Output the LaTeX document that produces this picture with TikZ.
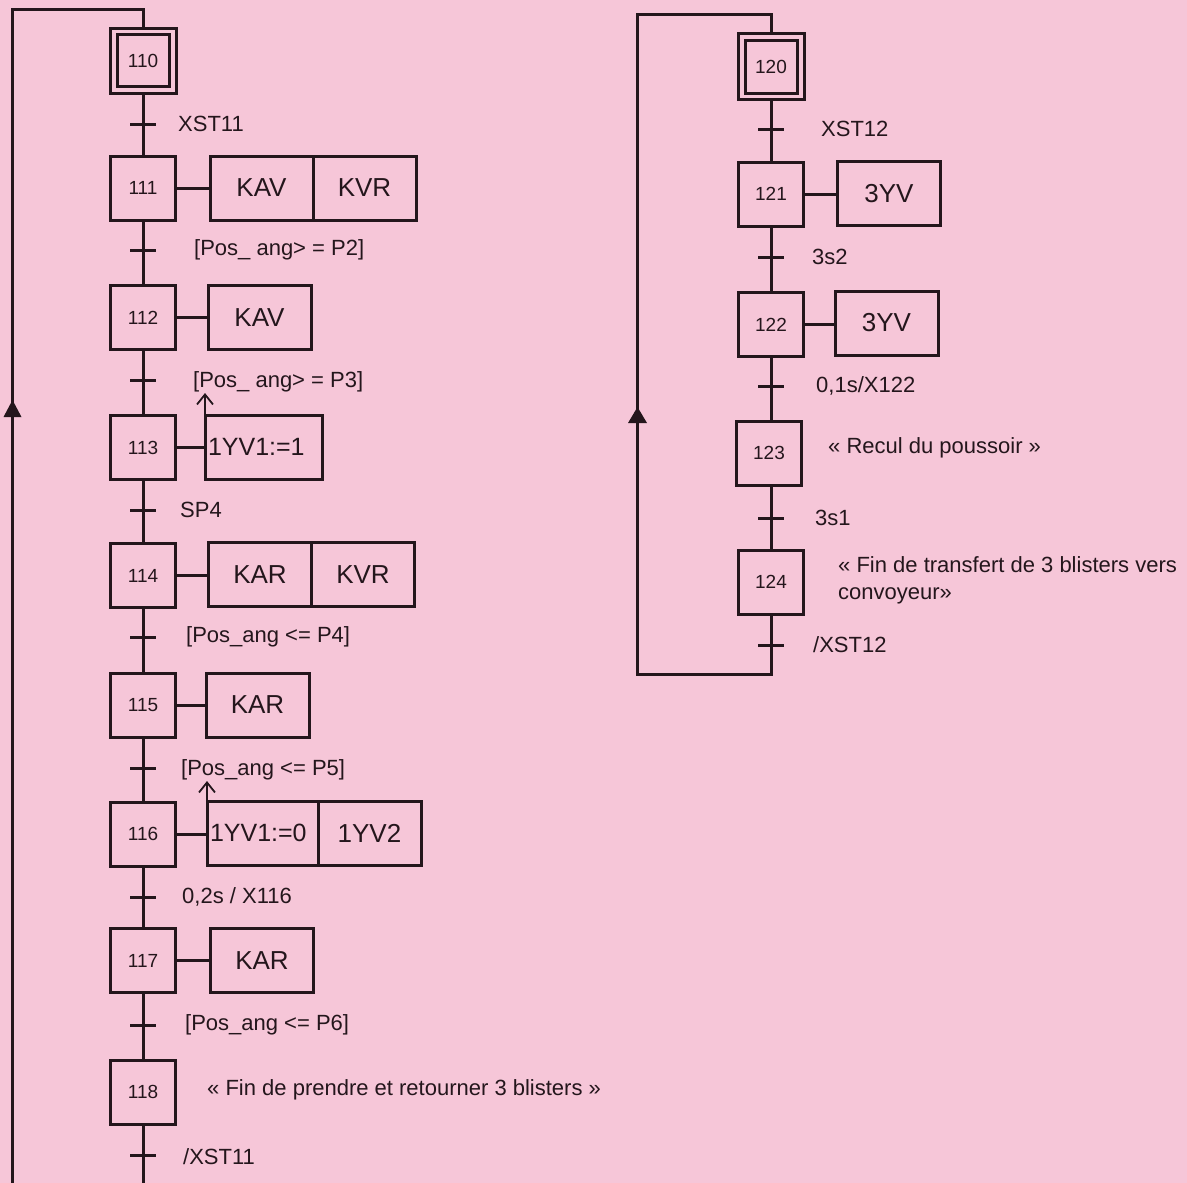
\documentclass[tikz,border=0pt]{standalone}
\usepackage{fontspec}
\setmainfont{Liberation Sans}
\usetikzlibrary{arrows.meta}
\definecolor{bgpink}{RGB}{246,198,216}
\definecolor{ink}{RGB}{36,22,28}
\begin{document}
\begin{tikzpicture}[x=1pt,y=-1pt,
  every node/.style={text=ink},
  ln/.style={draw=ink, line width=3pt},
  stepbox/.style={draw=ink, line width=3pt, minimum width=65pt, minimum height=64pt, inner sep=0pt, outer sep=0pt, font=\fontsize{19}{22}\selectfont},
  actbox/.style={draw=ink, line width=3pt, minimum width=103pt, minimum height=64pt, inner sep=0pt, outer sep=0pt, font=\fontsize{26}{30}\selectfont},
  memact/.style={actbox, inner xsep=3pt, align=left, font=\fontsize{25}{30}\selectfont},
  trlab/.style={anchor=west, inner sep=0pt, font=\fontsize{22}{27}\selectfont},
  tick/.style={draw=ink, line width=3pt},
  memarrow/.style={draw=ink, line width=1.8pt, -{Straight Barb[length=10pt,width=16pt,line width=1.8pt]}}
]
\path[use as bounding box, fill=bgpink] (0,0) rectangle (1187,1183);

% ---------------- left grafcet ----------------
\node[stepbox, minimum width=66pt, minimum height=65pt] (s110) at (143,60.5) {};
\node[stepbox, minimum width=52pt, minimum height=52pt] (s110in) at (143,60.5) {110};
\node[stepbox] (s111) at (143,188) {111};
\node[stepbox] (s112) at (143,317.5) {112};
\node[stepbox] (s113) at (143,447.5) {113};
\node[stepbox] (s114) at (143,575.5) {114};
\node[stepbox] (s115) at (143,705) {115};
\node[stepbox] (s116) at (143,834) {116};
\node[stepbox] (s117) at (143,960.5) {117};
\node[stepbox] (s118) at (143,1092) {118};

\draw[ln] (s110) -- (s111);
\draw[ln] (s111) -- (s112);
\draw[ln] (s112) -- (s113);
\draw[ln] (s113) -- (s114);
\draw[ln] (s114) -- (s115);
\draw[ln] (s115) -- (s116);
\draw[ln] (s116) -- (s117);
\draw[ln] (s117) -- (s118);

% loop
\coordinate (lbot) at (143,1183);
\coordinate (ltop) at (143,9);
\coordinate (lcorner) at (12.5,9);
\coordinate (lleft) at (12.5,1183);
\coordinate (ltip) at (12.5,400);
\draw[ln] (s118.south) -- (lbot);
\draw[ln] (lleft) -- (lcorner) -- (ltop) -- (s110.north);
\fill[ink] (ltip) -- ++(-9,17) -- ++(18,0) -- cycle;

% transitions
\foreach \n/\y in {t1/124,t2/250,t3/380,t4/510,t5/637,t6/768,t7/897,t8/1025,t9/1155}{
  \coordinate (\n) at (143,\y);
  \draw[tick] ([xshift=-13pt]\n) -- ([xshift=13pt]\n);
}
\node[trlab] (l1) at (178,124) {XST11};
\node[trlab] (l2) at (194,250) {[Pos\_ ang> = P2]};
\node[trlab] (l3) at (193,382) {[Pos\_ ang> = P3]};
\node[trlab] (l4) at (180,510) {SP4};
\node[trlab] (l5) at (186,637) {[Pos\_ang <= P4]};
\node[trlab] (l6) at (181,770) {[Pos\_ang <= P5]};
\node[trlab] (l7) at (182,897) {0,2s / X116};
\node[trlab] (l8) at (185,1025) {[Pos\_ang <= P6]};
\node[trlab] (l9) at (183,1157) {/XST11};
\node[trlab] (c118) at (207,1090) {« Fin de prendre et retourner 3 blisters »};

% actions
\node[actbox] (a111) at (261.5,188) {KAV};
\node[actbox, anchor=west] (a111b) at (a111.east) {KVR};
\node[actbox] (a112) at (259.5,317.5) {KAV};
\node[memact, minimum width=117pt, text width=111pt] (a113) at (263.5,447) {1YV1:=1};
\node[actbox] (a114) at (260,574.5) {KAR};
\node[actbox, anchor=west] (a114b) at (a114.east) {KVR};
\node[actbox] (a115) at (257.5,705) {KAR};
\node[memact, minimum width=111pt, text width=105pt] (a116) at (262.5,833) {1YV1:=0};
\node[actbox, anchor=west] (a116b) at (a116.east) {1YV2};
\node[actbox] (a117) at (262,960.5) {KAR};

\draw[ln] (s111.east) -- (s111.east -| a111.west);
\draw[ln] (s112.east) -- (s112.east -| a112.west);
\draw[ln] (s113.east) -- (s113.east -| a113.west);
\draw[ln] (s114.east) -- (s114.east -| a114.west);
\draw[ln] (s115.east) -- (s115.east -| a115.west);
\draw[ln] (s116.east) -- (s116.east -| a116.west);
\draw[ln] (s117.east) -- (s117.east -| a117.west);

\coordinate (m113) at ([yshift=22pt]a113.north west);
\coordinate (m116) at ([yshift=20pt]a116.north west);
\draw[memarrow] (a113.north west) -- (m113);
\draw[memarrow] (a116.north west) -- (m116);

% ---------------- right grafcet ----------------
\node[stepbox, minimum width=66pt, minimum height=66pt] (s120) at (771,66) {};
\node[stepbox, minimum width=52pt, minimum height=53pt] (s120in) at (771,66.5) {120};
\node[stepbox] (s121) at (771,194) {121};
\node[stepbox] (s122) at (771,324.5) {122};
\node[stepbox] (s123) at (769,453) {123};
\node[stepbox] (s124) at (771,582) {124};

\draw[ln] (s120) -- (s121);
\draw[ln] (s121) -- (s122);
\draw[ln] (s122) -- (s123.north -| s122.south);
\draw[ln] (s123.south -| s124.north) -- (s124);

\coordinate (rbot) at (771,674);
\coordinate (rleft) at (637.5,674);
\coordinate (rcorner) at (637.5,14);
\coordinate (rtop) at (771,14);
\coordinate (rtip) at (637.5,407);
\draw[ln] (s124.south) -- (rbot) -- (rleft) -- (rcorner) -- (rtop) -- (s120.north);
\fill[ink] (rtip) -- ++(-9.5,16) -- ++(19,0) -- cycle;

\foreach \n/\y in {u1/129,u2/257,u3/386,u4/518,u5/645}{
  \coordinate (\n) at (771,\y);
  \draw[tick] ([xshift=-13pt]\n) -- ([xshift=13pt]\n);
}
\node[trlab] (k1) at (821,129) {XST12};
\node[trlab] (k2) at (812,257) {3s2};
\node[trlab] (k3) at (816,386) {0,1s/X122};
\node[trlab] (k4) at (815,518) {3s1};
\node[trlab] (k5) at (813,645) {/XST12};
\node[trlab] (c123) at (828,448) {« Recul du poussoir »};
\node[trlab, align=left] (c124) at (838,580.5) {« Fin de transfert de 3 blisters vers\\convoyeur»};

\node[actbox] (a121) at (889,193.5) {3YV};
\node[actbox] (a122) at (886.5,323) {3YV};
\draw[ln] (s121.east) -- (s121.east -| a121.west);
\draw[ln] (s122.east) -- (s122.east -| a122.west);
\end{tikzpicture}
\end{document}
